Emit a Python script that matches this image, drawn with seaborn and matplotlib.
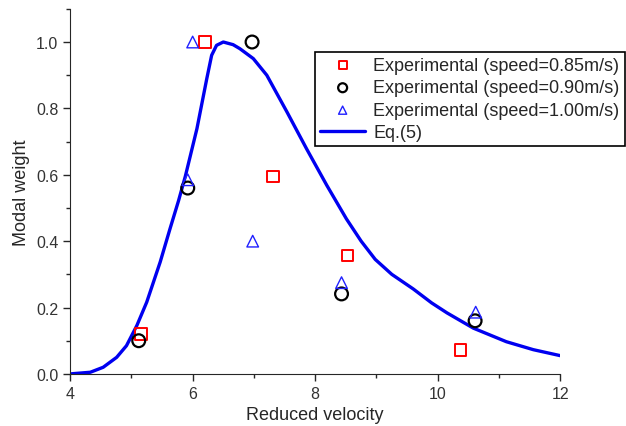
import pandas as pd
import matplotlib.pyplot as plt
import seaborn as sns
from matplotlib.ticker import AutoMinorLocator, MultipleLocator

# experimental points
v_085 = [5.16, 6.20, 7.31, 8.53, 10.37]
w_085 = [0.12, 1.00, 0.595, 0.357, 0.072]
v_090 = [5.12, 5.92, 6.97, 8.43, 10.61]
w_090 = [0.10, 0.56, 1.00, 0.241, 0.16]
v_100 = [6.00, 5.92, 6.98, 8.43, 10.62]
w_100 = [1.00, 0.585, 0.40, 0.275, 0.186]

# Eq.(5) curve, traced
v_eq = [4.0, 4.33, 4.54, 4.76, 4.92, 5.09, 5.25, 5.47, 5.63, 5.77, 5.88,
        6.07, 6.23, 6.31, 6.39, 6.50, 6.66, 6.77, 6.99, 7.21, 7.54, 7.86,
        8.19, 8.51, 8.75, 8.98, 9.25, 9.60, 9.90, 10.15, 10.58, 11.12, 11.56, 12.0]
w_eq = [0.0, 0.005, 0.02, 0.05, 0.085, 0.146, 0.216, 0.337, 0.437, 0.522, 0.595,
        0.739, 0.889, 0.96, 0.99, 1.0, 0.992, 0.98, 0.95, 0.90, 0.789, 0.678,
        0.568, 0.467, 0.40, 0.345, 0.30, 0.256, 0.214, 0.184, 0.138, 0.097, 0.073, 0.055]

sns.set_style('ticks')
plt.rcParams['font.family'] = ['Liberation Sans', 'DejaVu Sans']

fig = plt.figure(figsize=(6.26, 4.27), dpi=100)
ax = fig.add_axes([0.112, 0.122, 0.783, 0.855])

df_eq = pd.DataFrame({'v': v_eq, 'w': w_eq})
sns.lineplot(data=df_eq, x='v', y='w', sort=False, color='#0000f0', linewidth=2.4,
             label='Eq.(5)', ax=ax, zorder=2)

sns.scatterplot(x=v_085, y=w_085, marker='s', s=70, facecolors='none',
                edgecolor='#ff0000', linewidth=1.4, label='Experimental (speed=0.85m/s)',
                ax=ax, zorder=3)
sns.scatterplot(x=v_090, y=w_090, marker='o', s=85, facecolors='none',
                edgecolor='black', linewidth=1.6, label='Experimental (speed=0.90m/s)',
                ax=ax, zorder=3)
sns.scatterplot(x=v_100, y=w_100, marker='^', s=70, facecolors='none',
                edgecolor='#2020ff', linewidth=1.0, label='Experimental (speed=1.00m/s)',
                ax=ax, zorder=3)

ax.set_xlim(4, 12)
ax.set_ylim(0, 1.1)
ax.xaxis.set_major_locator(MultipleLocator(2))
ax.set_yticks([0, 0.2, 0.4, 0.6, 0.8, 1.0])
ax.xaxis.set_minor_locator(AutoMinorLocator(2))
ax.yaxis.set_minor_locator(AutoMinorLocator(2))
ax.tick_params(which='major', length=5, width=1, labelsize=11.5, labelcolor='#333333')
ax.tick_params(which='minor', length=3, width=1)
ax.set_xlabel('Reduced velocity', fontsize=13)
ax.set_ylabel('Modal weight', fontsize=13)
sns.despine(ax=ax)

handles, labels = ax.get_legend_handles_labels()
order = [labels.index(l) for l in ['Experimental (speed=0.85m/s)',
                                   'Experimental (speed=0.90m/s)',
                                   'Experimental (speed=1.00m/s)', 'Eq.(5)']]
leg = ax.legend([handles[i] for i in order], [labels[i] for i in order],
                loc='upper left', bbox_to_anchor=(315 / 626, 1 - 53 / 427),
                bbox_transform=fig.transFigure, fontsize=13, frameon=True,
                fancybox=False, edgecolor='black', framealpha=1, markerscale=0.7,
                handlelength=2.5, handletextpad=0.45, borderpad=0.28,
                labelspacing=0.3, borderaxespad=0)
leg.get_frame().set_linewidth(1.2)

plt.savefig('out.png', dpi=100)
